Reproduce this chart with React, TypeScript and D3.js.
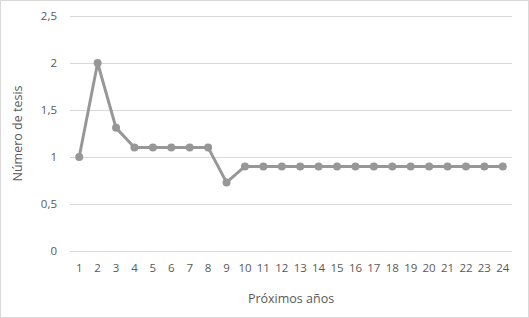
import React, { useRef, useEffect } from 'react';
import * as d3 from 'd3';

const years = d3.range(1, 25).map(String);
const tesis = [1, 2, 1.31, 1.1, 1.1, 1.1, 1.1, 1.1, 0.73, 0.9, 0.9, 0.9, 0.9, 0.9, 0.9, 0.9, 0.9, 0.9, 0.9, 0.9, 0.9, 0.9, 0.9, 0.9];
const yTicks = [0, 0.5, 1, 1.5, 2, 2.5];

const W = 529;
const H = 318;

const App = () => {
  const ref = useRef<SVGSVGElement>(null);

  useEffect(() => {
    const svg = d3.select(ref.current);
    svg.selectAll('*').remove();

    const margin = { top: 16, right: 17, bottom: 67, left: 70 };
    const x = d3.scaleBand().domain(years).range([margin.left, W - margin.right]);
    const y = d3.scaleLinear().domain([0, 2.5]).range([H - margin.bottom, margin.top]);
    const fmt = (v: number) => String(v).replace('.', ',');
    const font = "'Open Sans', sans-serif";
    const textColor = '#595959';

    svg.append('rect')
      .attr('x', 0.5).attr('y', 0.5)
      .attr('width', W - 1).attr('height', H - 1)
      .attr('fill', '#fff').attr('stroke', '#d9d9d9');

    // grid
    svg.append('g')
      .selectAll('line')
      .data(yTicks)
      .enter()
      .append('line')
      .attr('x1', margin.left).attr('x2', W - margin.right)
      .attr('y1', d => Math.round(y(d)) + 0.5).attr('y2', d => Math.round(y(d)) + 0.5)
      .attr('stroke', '#d9d9d9').attr('stroke-width', 1);

    // y labels
    svg.append('g')
      .selectAll('text')
      .data(yTicks)
      .enter()
      .append('text')
      .attr('x', margin.left - 13)
      .attr('y', d => y(d))
      .attr('dy', '0.35em')
      .attr('text-anchor', 'end')
      .style('font-family', font).style('font-size', '11.5px').attr('fill', textColor)
      .text(fmt);

    // x labels
    svg.append('g')
      .selectAll('text')
      .data(years)
      .enter()
      .append('text')
      .attr('x', d => x(d)! + x.bandwidth() / 2)
      .attr('y', H - margin.bottom + 21)
      .attr('text-anchor', 'middle')
      .style('font-family', font).style('font-size', '11.5px').attr('fill', textColor)
      .text(d => d);

    // titles
    svg.append('text')
      .attr('x', (margin.left + W - margin.right) / 2)
      .attr('y', 303)
      .attr('text-anchor', 'middle')
      .style('font-family', font).style('font-size', '12.5px').attr('fill', textColor)
      .text('Próximos años');

    svg.append('text')
      .attr('transform', `translate(22,${(margin.top + H - margin.bottom) / 2}) rotate(-90)`)
      .attr('text-anchor', 'middle')
      .style('font-family', font).style('font-size', '12.5px').attr('fill', textColor)
      .text('Número de tesis');

    const line = d3.line<number>()
      .x((d, i) => x(years[i])! + x.bandwidth() / 2)
      .y(d => y(d));

    svg.append('path')
      .datum(tesis)
      .attr('d', line)
      .attr('fill', 'none')
      .attr('stroke', '#979797')
      .attr('stroke-width', 3)
      .attr('stroke-linejoin', 'round');

    svg.append('g')
      .selectAll('circle')
      .data(tesis)
      .enter()
      .append('circle')
      .attr('cx', (d, i) => x(years[i])! + x.bandwidth() / 2)
      .attr('cy', d => y(d))
      .attr('r', 4)
      .attr('fill', '#979797');
  }, []);

  return (
    <svg
      ref={ref}
      width={W}
      height={H}
      style={{ position: 'fixed', left: 0, top: 0, display: 'block' }}
    />
  );
};

export default App;
